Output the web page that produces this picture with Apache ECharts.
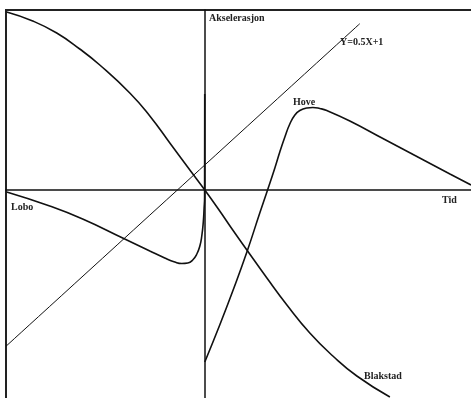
<!DOCTYPE html>
<html>
<head>
<meta charset="utf-8">
<script src="https://cdn.jsdelivr.net/npm/echarts@6/dist/echarts.min.js"></script>
<style>
  html, body, #main { margin: 0; padding: 0; width: 471px; height: 398px; overflow: hidden; background: #fff; }
</style>
</head>
<body>
<div id="main"></div>
<script>
// data, [tid, akselerasjon]
var blakstad = [[-14.45, 7.12], [-12.55, 6.76], [-10.8, 6.28], [-9.12, 5.64], [-7.66, 5.0],
  [-5.47, 3.88], [-4.01, 2.96], [-2.55, 1.88], [-1.09, 0.8], [0, 0], [1.09, -0.84],
  [2.04, -1.6], [3.07, -2.4], [4.53, -3.52], [5.99, -4.6], [7.66, -5.72], [9.34, -6.64],
  [11.09, -7.44], [13.5, -8.28]];
var hove = [[0, -6.88], [1.09, -5.4], [2.04, -4.04], [3.07, -2.48], [4.01, -0.92], [4.53, -0.08],
  [5.11, 0.88], [5.47, 1.52], [5.84, 2.12], [6.2, 2.64], [6.57, 3.0], [6.93, 3.18], [7.45, 3.28],
  [7.88, 3.3], [8.39, 3.26], [8.9, 3.18], [10.58, 2.76], [12.99, 2.06], [15.47, 1.34],
  [17.88, 0.64], [19.42, 0.2]];
var lobo = [[-14.45, -0.08], [-11.31, -0.64], [-8.91, -1.16], [-5.99, -1.92], [-4.01, -2.44],
  [-2.92, -2.72], [-2.19, -2.88], [-1.68, -2.94], [-1.24, -2.92], [-0.88, -2.8], [-0.58, -2.56],
  [-0.36, -2.24], [-0.22, -1.84], [-0.11, -1.28], [-0.05, -0.72], [-0.015, -0.28], [-0.005, 3.84]];
var rett = [[-14.5, -6.25], [11.3, 6.65]]; // Y=0.5X+1

var myChart = echarts.init(document.getElementById("main"));
var tekst = function (t, x, y) {
  return {
    type: "text", x: x, y: y,
    style: { text: t, font: "bold 10px 'Liberation Serif', serif", fill: "#222", verticalAlign: "middle" }
  };
};
var kurve = function (name, data, w) {
  return {
    name: name, type: "line", data: data, symbol: "none", smooth: 0.5,
    lineStyle: { color: "#111", width: w }, silent: true
  };
};
var akse = {
  show: true, onZero: true,
  lineStyle: { color: "#111", width: 1.5 }
};
var option = {
  animation: false,
  grid: {
    show: true, left: 6, top: 10, width: 473, height: 405,
    containLabel: false, outerBoundsMode: "none",
    borderColor: "#222", borderWidth: 2, backgroundColor: "transparent"
  },
  xAxis: {
    type: "value", min: -14.5, max: 20,
    axisLine: akse, axisTick: { show: false }, axisLabel: { show: false }, splitLine: { show: false }
  },
  yAxis: {
    type: "value", min: -9, max: 7.2,
    axisLine: akse, axisTick: { show: false }, axisLabel: { show: false }, splitLine: { show: false }
  },
  series: [
    kurve("Y=0.5X+1", rett, 1),
    kurve("Blakstad", blakstad, 1.6),
    kurve("Hove", hove, 1.6),
    kurve("Lobo", lobo, 1.6)
  ],
  graphic: [
    tekst("Akselerasjon", 209, 18),
    tekst("Y=0.5X+1", 340, 42),
    tekst("Hove", 293, 102),
    tekst("Tid", 442, 200),
    tekst("Lobo", 11, 207),
    tekst("Blakstad", 364, 376)
  ]
};
myChart.setOption(option);
</script>
</body>
</html>
